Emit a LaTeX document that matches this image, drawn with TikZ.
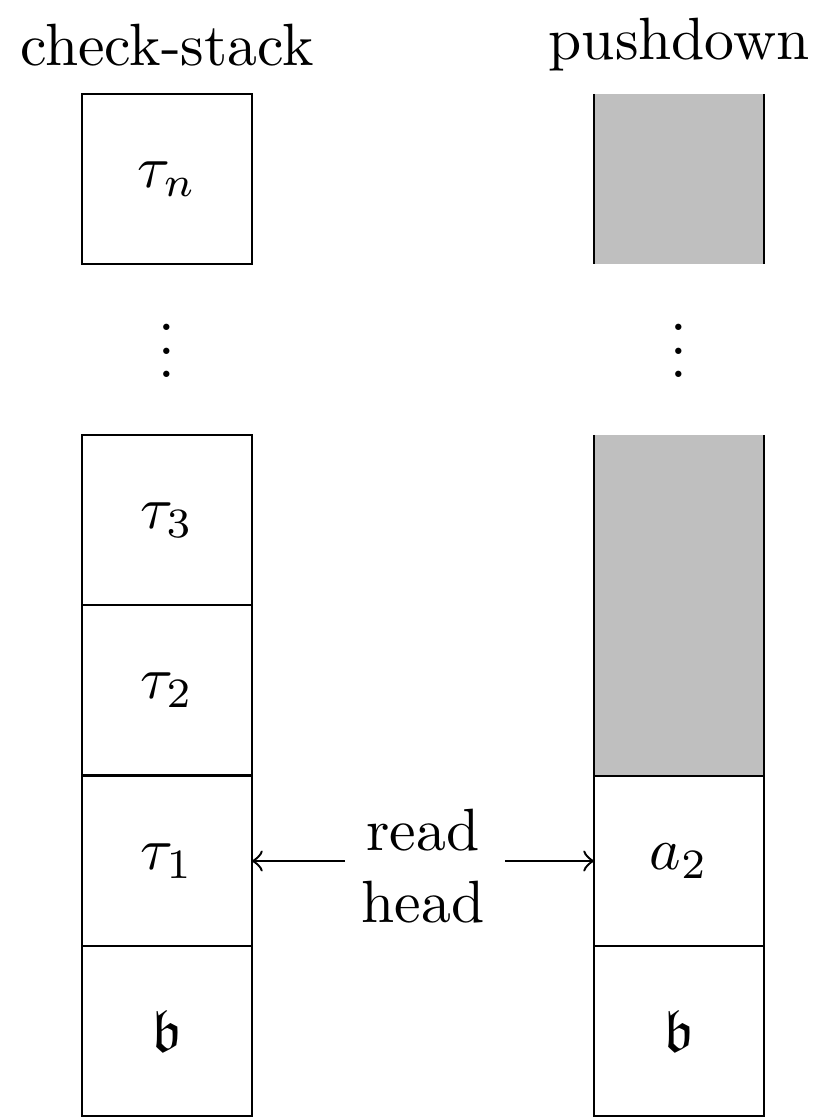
\documentclass[tikz,border=0pt]{standalone}
\usepackage{amssymb}
\begin{document}
\begin{tikzpicture}[x=0.0058824cm,y=-0.0058824cm,line width=0.4pt,
  cell/.style={draw,minimum size=1cm,inner sep=0pt,outer sep=0pt}]
\useasboundingbox (0,0) rectangle (830,1119);
\node (lt) at (167,45) {check-stack};
\node (rt) at (679,45) {pushdown};
% left column
\node[cell] (ln) at (167,179) {$\tau_n$};
\node (ld) at (167,333) {$\vdots$};
\node[cell] (l3) at (167,520) {$\tau_3$};
\node[cell] (l2) at (167,690) {$\tau_2$};
\node[cell] (l1) at (167,861) {$\tau_1$};
\node[cell] (l0) at (167,1031) {$\mathfrak{b}$};
% right column
\fill[gray!50] (594,94) rectangle (764,264);
\draw (594,94) -- (594,264) (764,94) -- (764,264);
\node (rd) at (679,333) {$\vdots$};
\fill[gray!50] (594,435) rectangle (764,776);
\draw (594,435) -- (594,776) (764,435) -- (764,776);
\node[cell] (r1) at (679,861) {$a_2$};
\node[cell] (r0) at (679,1031) {$\mathfrak{b}$};
% read head
\node[align=center] (rh) at (423,866) {read\\head};
\coordinate (a1) at (345,861);
\coordinate (a2) at (505,861);
\draw[->] (a1) -- (l1.east);
\draw[->] (a2) -- (r1.west);
\end{tikzpicture}
\end{document}
